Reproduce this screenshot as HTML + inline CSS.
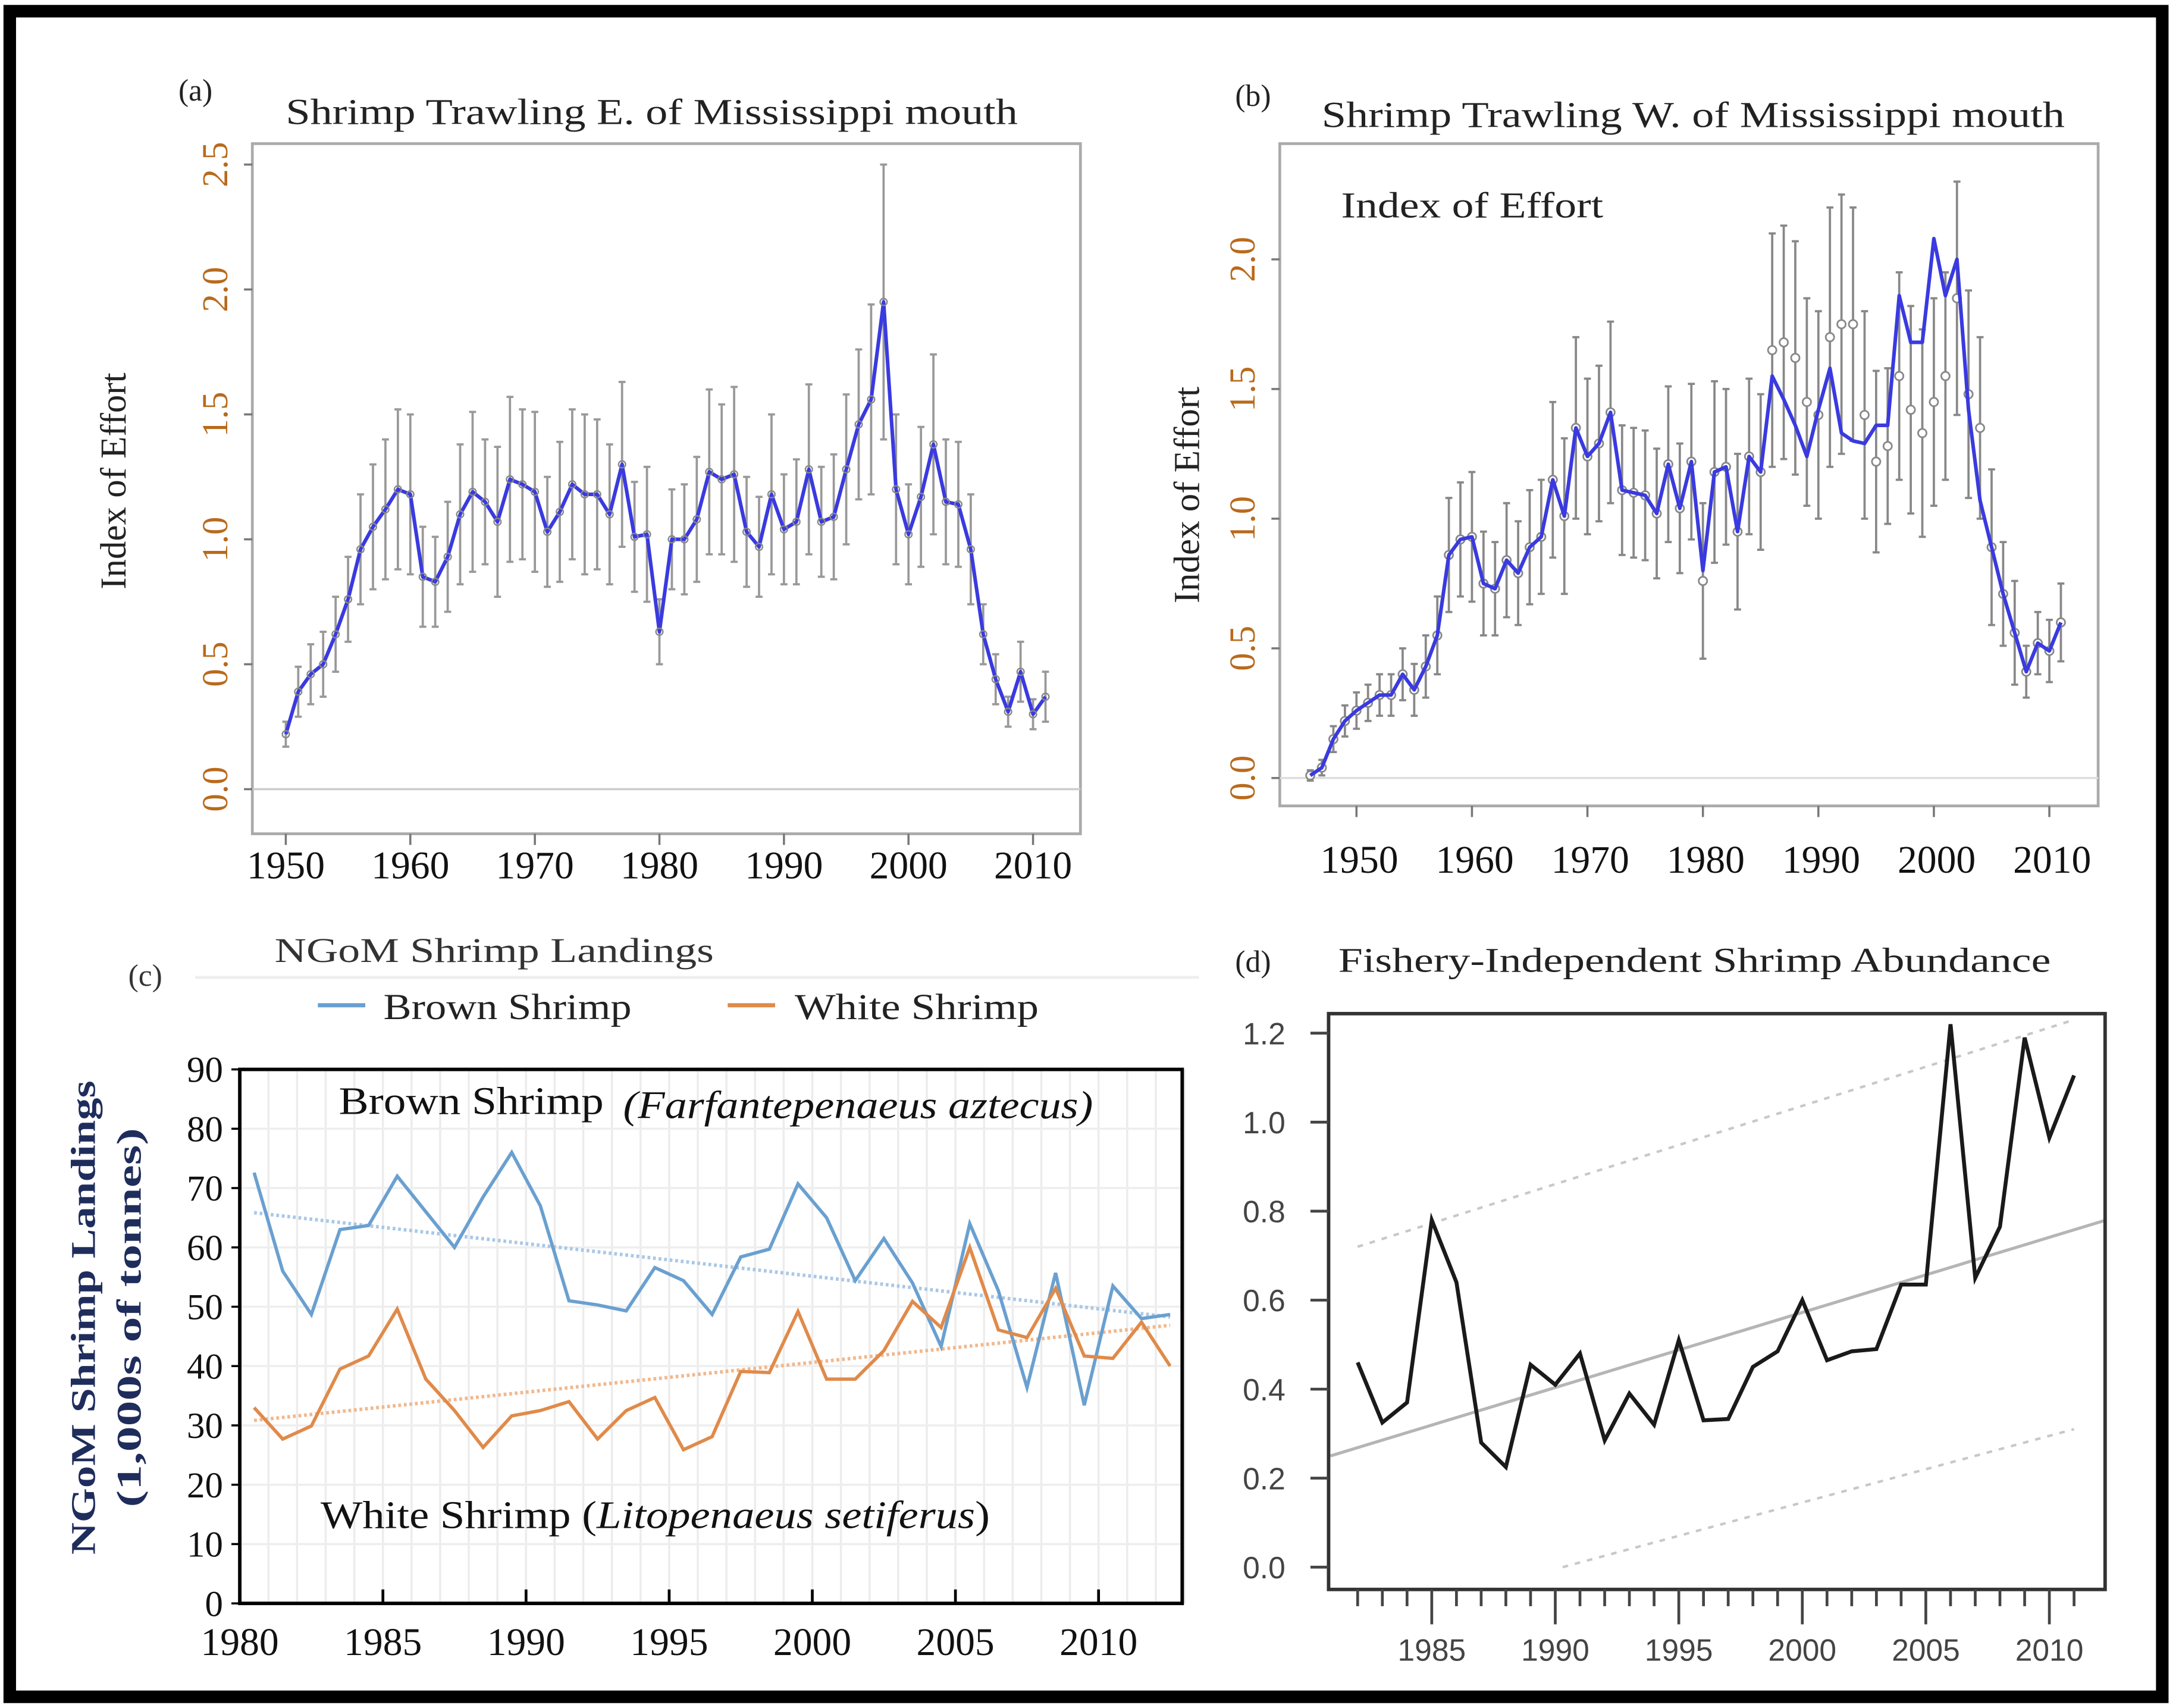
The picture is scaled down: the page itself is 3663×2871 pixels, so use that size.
<!DOCTYPE html>
<html><head><meta charset="utf-8"><style>
html,body{margin:0;padding:0;background:#fff;}
svg{display:block;}
text{font-family:"Liberation Serif",serif;}
.sans{font-family:"Liberation Sans",sans-serif;}
</style></head><body>
<svg id="fig" width="3663" height="2871" viewBox="0 0 1563 1225" xmlns="http://www.w3.org/2000/svg">
<rect x="0" y="0" width="1563" height="1225" fill="#fff"/>
<rect x="7" y="8" width="1544" height="1209" fill="none" stroke="#000" stroke-width="9"/>

<!-- Panel a -->
<g>
<text x="128" y="72" font-size="22" fill="#222">(a)</text>
<text x="205" y="89" font-size="26" fill="#222" textLength="525" lengthAdjust="spacingAndGlyphs">Shrimp Trawling E. of Mississippi mouth</text>
<rect x="181" y="103" width="594" height="495" fill="none" stroke="#aaa" stroke-width="2"/>
<text transform="translate(90,345) rotate(-90)" text-anchor="middle" font-size="26" fill="#222">Index of Effort</text>
<g id="aAxes"></g><g id="aMarks"></g>
</g>

<!-- Panel b -->
<g>
<text x="886" y="76" font-size="22" fill="#222">(b)</text>
<text x="948" y="91" font-size="26" fill="#222" textLength="533" lengthAdjust="spacingAndGlyphs">Shrimp Trawling W. of Mississippi mouth</text>
<rect x="918" y="103" width="587" height="475" fill="none" stroke="#aaa" stroke-width="2"/>
<text x="962" y="156" font-size="26" fill="#222" textLength="188" lengthAdjust="spacingAndGlyphs">Index of Effort</text>
<text transform="translate(860,355) rotate(-90)" text-anchor="middle" font-size="26" fill="#222">Index of Effort</text>
<g id="bAxes"></g><g id="bMarks"></g>
</g>

<!-- Panel c -->
<g>
<text x="92" y="707" font-size="22" fill="#333">(c)</text>
<text x="197" y="690" font-size="25" fill="#333" textLength="315" lengthAdjust="spacingAndGlyphs">NGoM Shrimp Landings</text>
<line x1="140" y1="701" x2="860" y2="701" stroke="#eee" stroke-width="2"/>
<line x1="228" y1="721" x2="262" y2="721" stroke="#6aa0d0" stroke-width="3"/>
<text x="275" y="731" font-size="26" fill="#222" textLength="178" lengthAdjust="spacingAndGlyphs">Brown Shrimp</text>
<line x1="522" y1="721" x2="556" y2="721" stroke="#e08a4a" stroke-width="3"/>
<text x="570" y="731" font-size="26" fill="#222" textLength="175" lengthAdjust="spacingAndGlyphs">White Shrimp</text>
<g id="cGrid"></g>
<text x="243" y="799" font-size="28" fill="#111" textLength="190" lengthAdjust="spacingAndGlyphs">Brown Shrimp</text>
<text x="447" y="802" font-size="28" font-style="italic" fill="#111" textLength="337" lengthAdjust="spacingAndGlyphs">(Farfantepenaeus aztecus)</text>
<text x="230" y="1096" font-size="28" fill="#111" textLength="480" lengthAdjust="spacingAndGlyphs">White Shrimp (<tspan font-style="italic">Litopenaeus setiferus</tspan>)</text>
<text transform="translate(68,945) rotate(-90)" text-anchor="middle" font-size="25" font-weight="bold" fill="#1f2d5c" textLength="340" lengthAdjust="spacingAndGlyphs">NGoM Shrimp Landings</text>
<text transform="translate(101,945) rotate(-90)" text-anchor="middle" font-size="25" font-weight="bold" fill="#1f2d5c" textLength="272" lengthAdjust="spacingAndGlyphs">(1,000s of tonnes)</text>
<g id="cMarks"></g>
<rect x="172" y="767" width="676" height="383" fill="none" stroke="#000" stroke-width="2.5"/>
<g id="cAxes"></g>
</g>

<!-- Panel d -->
<g>
<text x="886" y="697" font-size="22" fill="#222">(d)</text>
<text x="960" y="697" font-size="25" fill="#222" textLength="511" lengthAdjust="spacingAndGlyphs">Fishery-Independent Shrimp Abundance</text>
<g id="dMarks"></g>
<rect x="953" y="727" width="557" height="413" fill="none" stroke="#333" stroke-width="2.5"/>
<g id="dAxes"></g>
</g>
</svg>
<script>
// ---- Panel a data (1950-2011) ----
const aYears = []; for (let y = 1950; y <= 2011; y++) aYears.push(y);
const aVals = [0.22,0.39,0.46,0.50,0.62,0.76,0.96,1.05,1.12,1.20,
1.18,0.85,0.83,0.93,1.10,1.19,1.15,1.07,1.24,1.22,
1.19,1.03,1.11,1.22,1.18,1.18,1.10,1.30,1.01,1.02,
0.63,1.00,1.00,1.08,1.27,1.24,1.26,1.03,0.97,1.18,
1.04,1.07,1.28,1.07,1.09,1.28,1.46,1.56,1.95,1.20,
1.02,1.17,1.38,1.15,1.14,0.96,0.62,0.44,0.31,0.47,
0.30,0.37];
const aErr = [0.05,0.1,0.12,0.13,0.15,0.17,0.22,0.25,0.28,0.32,
0.32,0.2,0.18,0.22,0.28,0.32,0.25,0.3,0.33,0.3,
0.32,0.22,0.28,0.3,0.32,0.3,0.28,0.33,0.22,0.27,
0.13,0.2,0.22,0.25,0.33,0.3,0.35,0.22,0.2,0.32,
0.22,0.25,0.34,0.22,0.25,0.3,0.3,0.38,0.55,0.3,
0.2,0.28,0.36,0.25,0.25,0.22,0.12,0.1,0.06,0.12,
0.06,0.1];
const aYTicks = ["0.0","0.5","1.0","1.5","2.0","2.5"];
const aXTicks = [1950,1960,1970,1980,1990,2000,2010];

// ---- Panel b data (1946-2011) ----
const bYears = []; for (let y = 1946; y <= 2011; y++) bYears.push(y);
const bVals = [0.01,0.04,0.15,0.22,0.26,0.29,0.32,0.32,0.40,0.34,
0.43,0.55,0.86,0.92,0.93,0.75,0.73,0.84,0.79,0.89,
0.93,1.15,1.01,1.35,1.24,1.29,1.41,1.11,1.10,1.09,
1.02,1.21,1.04,1.22,0.80,1.18,1.20,0.95,1.24,1.18,
1.55,1.46,1.36,1.24,1.42,1.58,1.33,1.30,1.29,1.36,
1.36,1.86,1.68,1.68,2.08,1.86,2.00,1.42,1.07,0.89,
0.71,0.56,0.41,0.52,0.49,0.60];
const bPts = [0.01,0.04,0.15,0.22,0.26,0.29,0.32,0.32,0.40,0.34,
0.43,0.55,0.86,0.92,0.93,0.75,0.73,0.84,0.79,0.89,
0.93,1.15,1.01,1.35,1.24,1.29,1.41,1.11,1.10,1.09,
1.02,1.21,1.04,1.22,0.76,1.18,1.20,0.95,1.24,1.18,
1.65,1.68,1.62,1.45,1.40,1.70,1.75,1.75,1.40,1.22,
1.28,1.55,1.42,1.33,1.45,1.55,1.85,1.48,1.35,0.89,
0.71,0.56,0.41,0.52,0.49,0.60];
const bErr = [0.02,0.03,0.05,0.06,0.07,0.07,0.08,0.08,0.1,0.1,0.12,0.15,
0.22,0.22,0.25,0.2,0.18,0.22,0.2,0.22,0.22,0.3,0.3,0.35,0.3,0.3,0.35,0.25,0.25,0.25,0.25,0.3,0.25,0.3,0.3,0.35,0.3,0.3,0.3,0.3,
0.45,0.45,0.45,0.4,0.4,0.5,0.5,0.45,0.4,0.35,0.3,0.4,0.4,0.4,0.4,0.4,0.45,0.4,
0.35,0.3,0.2,0.2,0.1,0.12,0.12,0.15];
const bYTicks = ["0.0","0.5","1.0","1.5","2.0"];
const bXTicks = [1950,1960,1970,1980,1990,2000,2010];

// ---- Panel c data (1980-2012) ----
const cYears = []; for (let y = 1980; y <= 2012; y++) cYears.push(y);
const cBrown = [72.6,56,48.7,63,63.7,72,66,60,68.5,76,
67,51,50.3,49.3,56.6,54.4,48.7,58.4,59.7,70.7,
65,54.4,61.5,54,43.3,64,52.7,36.4,55.7,33.4,
53.5,48,48.7];
const cWhite = [33,27.7,29.9,39.5,41.7,49.6,37.8,32.5,26.3,31.6,
32.5,34,27.7,32.5,34.7,25.9,28.1,39.1,38.9,49.2,
37.8,37.8,42.6,50.9,46.5,60,46.1,44.8,53.1,41.7,
41.3,47.4,40];
const cYTicks = [0,10,20,30,40,50,60,70,80,90];
const cXTicks = [1980,1985,1990,1995,2000,2005,2010];

// ---- Panel d data (1982-2011) ----
const dYears = []; for (let y = 1982; y <= 2011; y++) dYears.push(y);
const dVals = [0.46,0.325,0.37,0.78,0.64,0.28,0.225,0.455,0.41,0.48,
0.285,0.39,0.32,0.51,0.33,0.333,0.45,0.485,0.60,0.465,
0.485,0.49,0.635,0.635,1.22,0.65,0.765,1.19,0.965,1.105];
const dTrendX = [1980.9, 2012.3];
const dTrendY = [0.25, 0.78];
const dUpperX = [1982, 2011];
const dUpperY = [0.72, 1.23];
const dLowerX = [1990.3, 2011];
const dLowerY = [0.0, 0.31];
const dYTicks = ["0.0","0.2","0.4","0.6","0.8","1.0","1.2"];
const dXTicks = [1985,1990,1995,2000,2005,2010];

const NS = "http://www.w3.org/2000/svg";
function mk(parent, tag, attrs, txt) {
  const e = document.createElementNS(NS, tag);
  for (const k in attrs) e.setAttribute(k, attrs[k]);
  if (txt !== undefined) e.textContent = txt;
  parent.appendChild(e);
  return e;
}
function lin(d0, d1, r0, r1) { return v => r0 + (v - d0) * (r1 - r0) / (d1 - d0); }
function fit(xs, ys) {
  const n = xs.length; let sx=0,sy=0,sxx=0,sxy=0;
  for (let i=0;i<n;i++){sx+=xs[i];sy+=ys[i];sxx+=xs[i]*xs[i];sxy+=xs[i]*ys[i];}
  const b=(n*sxy-sx*sy)/(n*sxx-sx*sx); return {b:b,a:(sy-b*sx)/n};
}

// ===== Panel a =====
(function(){
  const ax = document.getElementById('aAxes'), mg = document.getElementById('aMarks');
  const x = lin(1950, 2010, 205, 741), y = lin(0, 2.5, 566, 118);
  const zl = mk(ax,'line',{x1:181,x2:775,y1:y(0),y2:y(0),stroke:'#ccc','stroke-width':1.5});
  
  
  aYTicks.forEach(t => {
    const v = parseFloat(t);
    mk(ax,'line',{x1:175,x2:181,y1:y(v),y2:y(v),stroke:'#777','stroke-width':1.5});
    const tx = mk(ax,'text',{transform:`translate(163,${y(v)}) rotate(-90)`,'text-anchor':'middle','font-size':26,fill:'#b86a1c'},t);
    
    
  });
  aXTicks.forEach(t => {
    mk(ax,'line',{x1:x(t),x2:x(t),y1:598,y2:606,stroke:'#777','stroke-width':1.5});
    const tx = mk(ax,'text',{x:x(t),y:630,'text-anchor':'middle','font-size':28,fill:'#111'},String(t));
    
    
  });
  aYears.forEach((yr,i) => {
    const eb = mk(mg,'path',{d:`M${x(yr)},${y(aVals[i]+aErr[i])}V${y(aVals[i]-aErr[i])}M${x(yr)-2.5},${y(aVals[i]+aErr[i])}h5M${x(yr)-2.5},${y(aVals[i]-aErr[i])}h5`,stroke:'#999','stroke-width':1.6,fill:'none'});
    
    
  });
  const ln = mk(mg,'polyline',{points:aYears.map((yr,i)=>`${x(yr)},${y(aVals[i])}`).join(' '),fill:'none',stroke:'#3a3ae0','stroke-width':2.6,'stroke-linejoin':'round'});
  
  
  aYears.forEach((yr,i) => {
    const c = mk(mg,'circle',{cx:x(yr),cy:y(aVals[i]),r:2.5,fill:'none',stroke:'#888','stroke-width':1});
    
    
  });
})();

// ===== Panel b =====
(function(){
  const ax = document.getElementById('bAxes'), mg = document.getElementById('bMarks');
  const x = lin(1950, 2010, 973, 1470), y = lin(0, 2.0, 558, 186);
  const zl = mk(ax,'line',{x1:918,x2:1505,y1:y(0),y2:y(0),stroke:'#ddd','stroke-width':1.5});
  
  
  bYTicks.forEach(t => {
    const v = parseFloat(t);
    mk(ax,'line',{x1:912,x2:918,y1:y(v),y2:y(v),stroke:'#777','stroke-width':1.5});
    const tx = mk(ax,'text',{transform:`translate(900,${y(v)}) rotate(-90)`,'text-anchor':'middle','font-size':26,fill:'#b86a1c'},t);
    
    
  });
  bXTicks.forEach(t => {
    mk(ax,'line',{x1:x(t),x2:x(t),y1:578,y2:586,stroke:'#777','stroke-width':1.5});
    const tx = mk(ax,'text',{x:x(t)+2,y:626,'text-anchor':'middle','font-size':28,fill:'#111'},String(t));
    
    
  });
  bYears.forEach((yr,i) => {
    const eb = mk(mg,'path',{d:`M${x(yr)},${y(bPts[i]+bErr[i])}V${y(bPts[i]-bErr[i])}M${x(yr)-2.5},${y(bPts[i]+bErr[i])}h5M${x(yr)-2.5},${y(bPts[i]-bErr[i])}h5`,stroke:'#888','stroke-width':1.6,fill:'none'});
    
    
  });
  bYears.forEach((yr,i) => {
    const c = mk(mg,'circle',{cx:x(yr),cy:y(bPts[i]),r:3,fill:'#fff',stroke:'#888','stroke-width':1.2});
    
    
  });
  const ln = mk(mg,'polyline',{points:bYears.map((yr,i)=>`${x(yr)},${y(bVals[i])}`).join(' '),fill:'none',stroke:'#3a3ae0','stroke-width':2.6,'stroke-linejoin':'round'});
  
  
})();

// ===== Panel c =====
(function(){
  const gr = document.getElementById('cGrid'), ax = document.getElementById('cAxes'), mg = document.getElementById('cMarks');
  const x = lin(1980, 2010, 172, 788), y = lin(0, 90, 1150, 767);
  for (let yr = 1980; yr <= 2013; yr++) mk(gr,'line',{x1:x(yr),x2:x(yr),y1:767,y2:1150,stroke:'#ececec','stroke-width':1.5});
  cYTicks.forEach(t => {
    mk(gr,'line',{x1:172,x2:848,y1:y(t),y2:y(t),stroke:'#eeeeee','stroke-width':1.5});
    mk(ax,'line',{x1:166,x2:172,y1:y(t),y2:y(t),stroke:'#000','stroke-width':1.5});
    const tx = mk(ax,'text',{x:160,y:y(t)+9,'text-anchor':'end','font-size':26,fill:'#111'},String(t));
    
    
  });
  cXTicks.forEach(t => {
    mk(ax,'line',{x1:x(t),x2:x(t),y1:1150,y2:1140,stroke:'#000','stroke-width':2});
    const tx = mk(ax,'text',{x:x(t),y:1187,'text-anchor':'middle','font-size':28,fill:'#111'},String(t));
    
    
  });
  const xs = cYears.map(v=>v+0.5);
  const fb = fit(xs,cBrown), fw = fit(xs,cWhite);
  const tb = mk(mg,'line',{x1:x(xs[0]),y1:y(fb.a+fb.b*xs[0]),x2:x(xs[xs.length-1]),y2:y(fb.a+fb.b*xs[xs.length-1]),stroke:'#a9c8e6','stroke-width':2.5,'stroke-dasharray':'2 2'});
  
  
  const tw = mk(mg,'line',{x1:x(xs[0]),y1:y(fw.a+fw.b*xs[0]),x2:x(xs[xs.length-1]),y2:y(fw.a+fw.b*xs[xs.length-1]),stroke:'#f0b88e','stroke-width':2.5,'stroke-dasharray':'2 2'});
  
  
  const lb = mk(mg,'polyline',{points:xs.map((v,i)=>`${x(v)},${y(cBrown[i])}`).join(' '),fill:'none',stroke:'#6aa0d0','stroke-width':2.4});
  
  
  const lw = mk(mg,'polyline',{points:xs.map((v,i)=>`${x(v)},${y(cWhite[i])}`).join(' '),fill:'none',stroke:'#e08a4a','stroke-width':2.4});
  
  
})();

// ===== Panel d =====
(function(){
  const ax = document.getElementById('dAxes'), mg = document.getElementById('dMarks');
  const x = lin(1985, 2010, 1027, 1470), y = lin(0, 1.2, 1124, 741);
  dYTicks.forEach(t => {
    const v = parseFloat(t);
    mk(ax,'line',{x1:940,x2:953,y1:y(v),y2:y(v),stroke:'#444','stroke-width':2});
    const tx = mk(ax,'text',{class:'sans',x:922,y:y(v)+8,'text-anchor':'end','font-size':22,fill:'#444'},t);
    
    
  });
  for (let yr = 1982; yr <= 2011; yr++) {
    const major = yr % 5 === 0;
    mk(ax,'line',{x1:x(yr),x2:x(yr),y1:1140,y2:major?1165:1152,stroke:'#444','stroke-width':2});
  }
  dXTicks.forEach(t => {
    const tx = mk(ax,'text',{class:'sans',x:x(t),y:1191,'text-anchor':'middle','font-size':22,fill:'#444'},String(t));
    
    
  });
  const tl = mk(mg,'line',{x1:x(dTrendX[0]),y1:y(dTrendY[0]),x2:x(dTrendX[1]),y2:y(dTrendY[1]),stroke:'#b5b5b5','stroke-width':2.2});
  
  
  const up = mk(mg,'line',{x1:x(dUpperX[0]),y1:y(dUpperY[0]),x2:x(dUpperX[1]),y2:y(dUpperY[1]),stroke:'#c8c8c8','stroke-width':1.8,'stroke-dasharray':'4 5'});
  
  
  const lo = mk(mg,'line',{x1:x(dLowerX[0]),y1:y(dLowerY[0]),x2:x(dLowerX[1]),y2:y(dLowerY[1]),stroke:'#c8c8c8','stroke-width':1.8,'stroke-dasharray':'4 5'});
  
  
  const ln = mk(mg,'polyline',{points:dYears.map((yr,i)=>`${x(yr)},${y(dVals[i])}`).join(' '),fill:'none',stroke:'#1a1a1a','stroke-width':2.8,'stroke-linejoin':'miter'});
  
  
})();
</script>
</body></html>
